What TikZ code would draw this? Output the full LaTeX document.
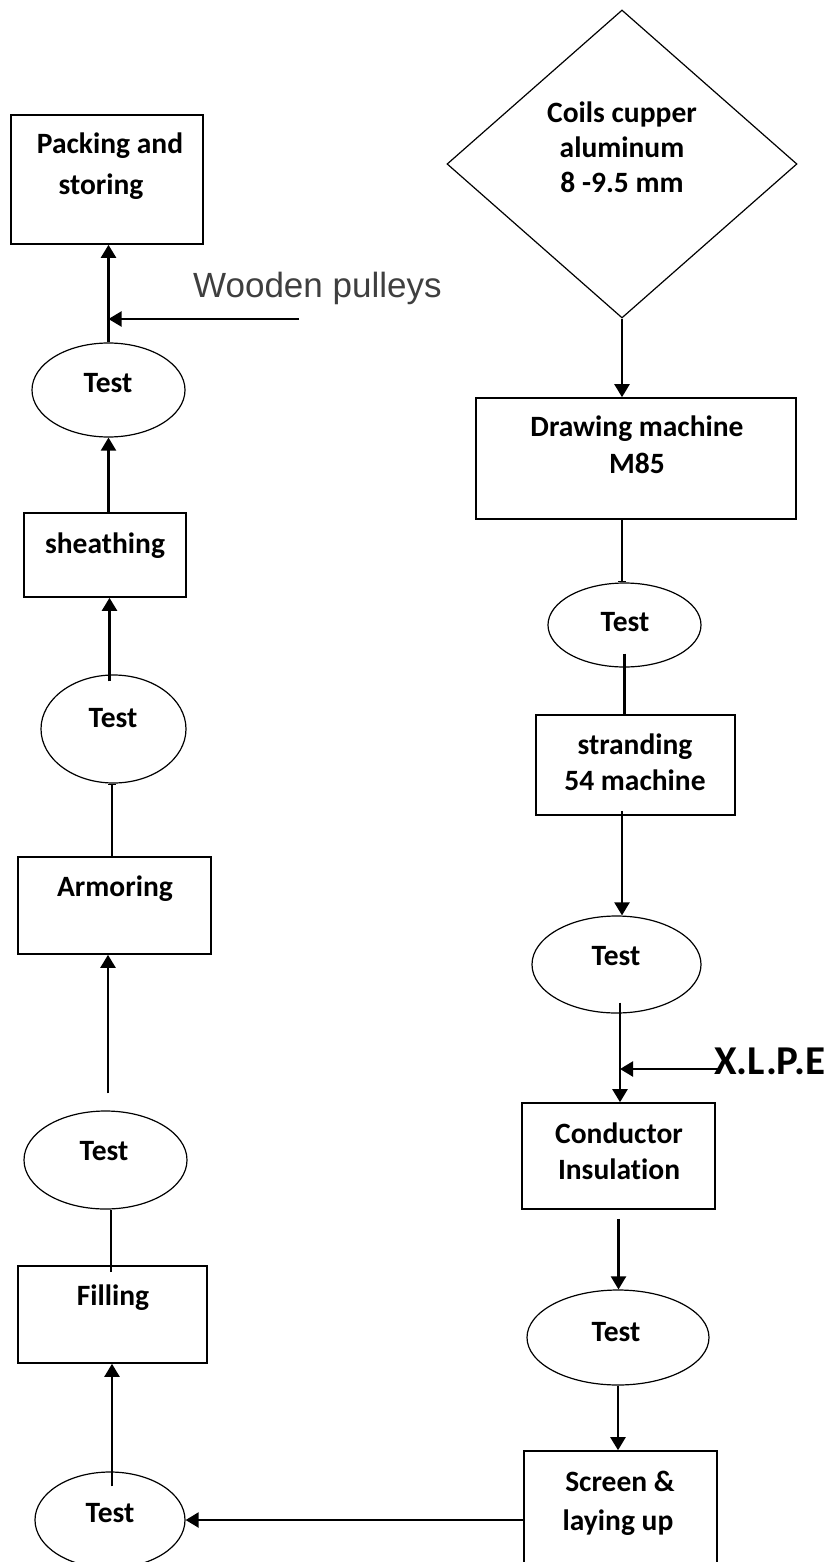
\documentclass[tikz,border=0pt]{standalone}
\usepackage{fontspec}
\setmainfont[Ligatures=NoCommon]{Carlito}
\newfontfamily\arialfont{Liberation Sans}
\usetikzlibrary{shapes.geometric,arrows.meta}
\definecolor{woodgray}{HTML}{3F3F3F}
\begin{document}
\begin{tikzpicture}[x=1pt,y=-1pt,
  box/.style={draw, rectangle, line width=1.6pt, inner sep=0pt},
  oval/.style={draw, ellipse, line width=1.2pt, inner sep=0pt},
  dia/.style={draw, diamond, line width=1.2pt, inner sep=0pt},
  lbl/.style={anchor=base, inner sep=0pt, font=\fontsize{29.5}{35}\selectfont\bfseries},
  arr/.style={line width=2.2pt, -{Triangle[length=13pt,width=15pt]}},
  ln/.style={line width=2.2pt},
  lnbar/.style={line width=2.2pt, -{Bar[width=8pt,line width=1.2pt]}},
]
\useasboundingbox (0,0) rectangle (831,1562);

% ---- shapes ----
\node[box, minimum width=192pt, minimum height=129pt] (pack) at (107,179.5) {};
\node[dia, minimum width=350pt, minimum height=308pt] (coils) at (622,164) {};
\node[box, minimum width=320pt, minimum height=121pt] (drawm) at (636,458.5) {};
\node[oval, minimum width=153pt, minimum height=84pt] (t1) at (624.5,625) {};
\node[box, minimum width=199pt, minimum height=100pt] (strand) at (635.5,765) {};
\node[oval, minimum width=169pt, minimum height=97pt] (t2) at (616.5,964.5) {};
\node[box, minimum width=193pt, minimum height=106pt] (cond) at (618.5,1156) {};
\node[oval, minimum width=182pt, minimum height=95pt] (t3) at (618,1337.5) {};
\node[box, minimum width=193pt, minimum height=129pt] (screen) at (620.5,1515.5) {};
\node[oval, minimum width=150pt, minimum height=96pt] (t4) at (110,1520) {};
\node[box, minimum width=189pt, minimum height=97pt] (fill) at (112.5,1314.5) {};
\node[oval, minimum width=163pt, minimum height=98pt] (t5) at (105.5,1160) {};
\node[box, minimum width=193pt, minimum height=97pt] (armor) at (114.5,905.5) {};
\node[oval, minimum width=145pt, minimum height=108pt] (t6) at (113.5,729) {};
\node[box, minimum width=162pt, minimum height=84pt] (sheath) at (105,555) {};
\node[oval, minimum width=153pt, minimum height=94pt] (t7) at (108.5,390) {};

% ---- texts ----
\node[lbl] (pack1) at (110,154) {Packing and};
\node[lbl] (pack2) at (101,195) {storing};
\node[lbl] (coils1) at (622,123) {Coils cupper};
\node[lbl] (coils2) at (622,158) {aluminum};
\node[lbl] (coils3) at (622,193) {8 -9.5 mm};
\node[lbl] (draw1) at (637,436) {Drawing machine};
\node[lbl] (draw2) at (637,473) {M85};
\node[lbl] (t1l) at (625,631) {Test};
\node[lbl] (str1) at (635,754) {stranding};
\node[lbl] (str2) at (635,790) {54 machine};
\node[lbl] (t2l) at (616,965) {Test};
\node[lbl] (cond1) at (619,1143) {Conductor};
\node[lbl] (cond2) at (619,1179) {Insulation};
\node[lbl] (t3l) at (616,1341) {Test};
\node[lbl] (scr1) at (620,1491) {Screen \&};
\node[lbl] (scr2) at (618,1530) {laying up};
\node[lbl] (t4l) at (110,1522) {Test};
\node[lbl] (fill1) at (113,1305) {Filling};
\node[lbl] (t5l) at (104,1160) {Test};
\node[lbl] (arm1) at (115,896) {Armoring};
\node[lbl] (t6l) at (113,727) {Test};
\node[lbl] (sh1) at (105,553) {sheathing};
\node[lbl] (t7l) at (108,392) {Test};
\node[anchor=base west, inner sep=0pt, font=\fontsize{41}{46}\selectfont\bfseries] (xlpe) at (714,1074) {X.L.P.E};
\node[anchor=base west, inner sep=0pt, text=woodgray, font=\arialfont\fontsize{35}{40}\selectfont] (wood) at (193,297) {Wooden pulleys};

% ---- connectors ----
\coordinate (wp) at (299,319);
\draw[arr] (wp) -- (wp -| t7.north);
\draw[arr] (t7.north) -- (t7.north |- pack.south);
\draw[arr] (sheath.north -| t7.south) -- (t7.south);
\draw[arr] ([xshift=-4pt,yshift=-7pt]t6.north) -- ([xshift=-4pt]t6.north |- sheath.south);
\draw[lnbar] ([xshift=-2.5pt]armor.north) -- ([xshift=-2.5pt]armor.north |- t6.south);
\draw[arr] ([xshift=2.5pt,yshift=17pt]t5.north) -- ([xshift=2.5pt]t5.north |- armor.south);
\draw[ln] ([xshift=-1.5pt,yshift=-7pt]fill.north) -- ([xshift=-1.5pt]fill.north |- t5.south);
\draw[arr] ([xshift=2pt,yshift=-15pt]t4.north) -- ([xshift=2pt]t4.north |- fill.south);
\draw[arr] (t4.east -| screen.west) -- (t4.east);
\draw[arr] (t3.south) -- (t3.south |- screen.north);
\draw[arr] ([yshift=-9pt]cond.south) -- (cond.south |- t3.north);
\coordinate (v2) at ([xshift=3.5pt]t2.south);
\draw[arr] ([xshift=3.5pt,yshift=11pt]t2.south) -- (v2 |- cond.north);
\coordinate (xl) at (720,1069);
\draw[arr] (xl) -- (xl -| v2);
\draw[arr] ([xshift=-13.5pt,yshift=5pt]strand.south) -- ([xshift=-13.5pt]strand.south |- t2.north);
\draw[ln] ([yshift=14pt]t1.south) -- (t1.south |- strand.north);
\draw[lnbar] ([xshift=-14pt]drawm.south) -- ([xshift=-14pt]drawm.south |- t1.north);
\draw[arr] (coils.south) -- (coils.south |- drawm.north);
\end{tikzpicture}
\end{document}
